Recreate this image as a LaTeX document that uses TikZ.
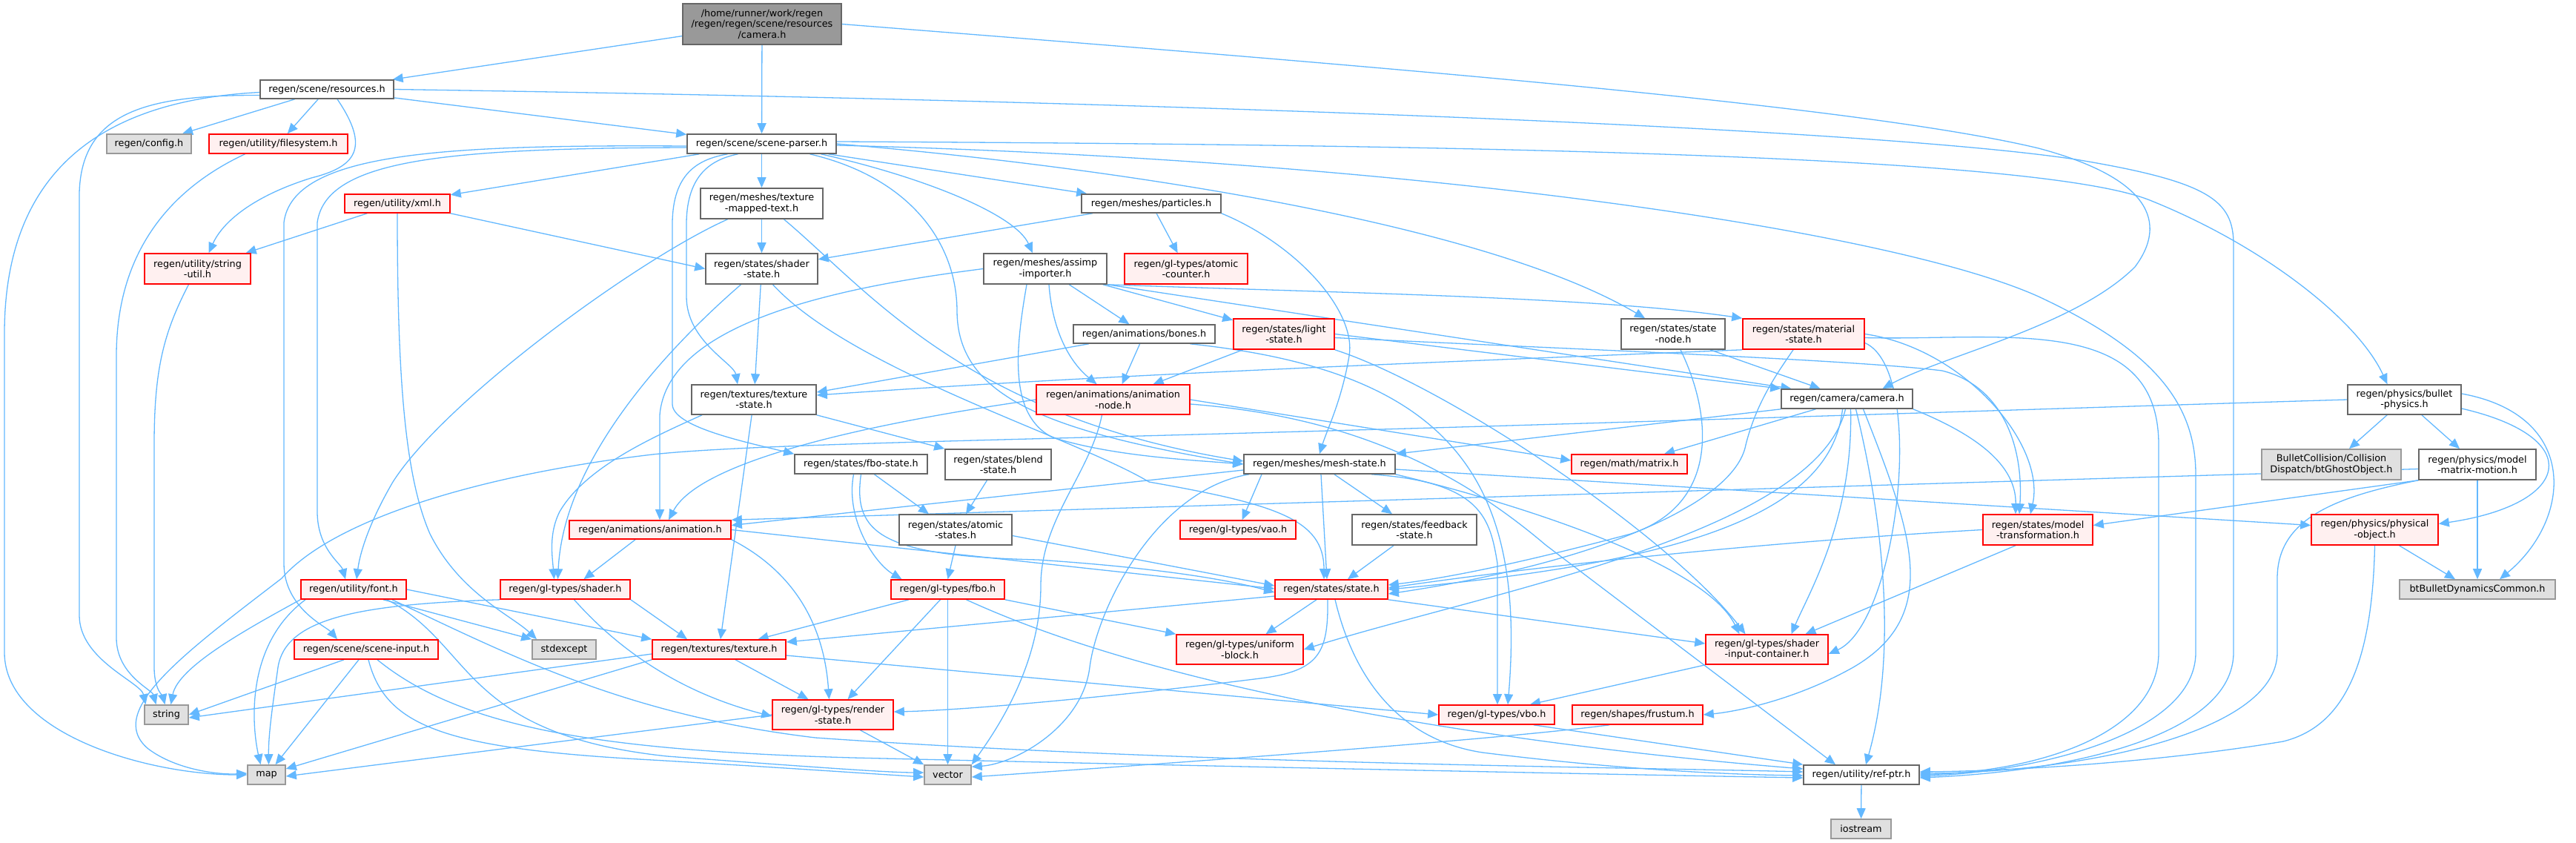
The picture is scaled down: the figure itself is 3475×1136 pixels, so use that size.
\documentclass[tikz,border=0pt]{standalone}
\usepackage{fontspec}
\setmainfont{DejaVu Sans}
\usetikzlibrary{arrows.meta}
\definecolor{edgeblue}{HTML}{63B8FF}
\definecolor{darkgrey}{HTML}{666666}
\definecolor{midgrey}{HTML}{999999}
\definecolor{palegrey}{HTML}{E0E0E0}
\definecolor{redfill}{HTML}{FFF0F0}
\pgfdeclarelayer{bg}
\pgfsetlayers{bg,main}
\tikzset{
  nbox/.style={draw=darkgrey, fill=white, text=black, line width=1.6pt, inner sep=0pt, align=center, font=\fontsize{12.8pt}{14.5pt}\selectfont},
  rbox/.style={nbox, draw=red, fill=redfill},
  xbox/.style={nbox, draw=midgrey, fill=palegrey},
  mbox/.style={nbox, draw=darkgrey, fill=midgrey},
  sz/.style 2 args={minimum width=#1pt, minimum height=#2pt},
  dep/.style={draw=edgeblue, line width=1.3pt, -{Triangle[length=14pt,width=12pt]}},
}
\begin{document}
\begin{tikzpicture}[x=1pt,y=-1pt]
\useasboundingbox (0,0) rectangle (3475,1136);
% nodes
\node[mbox,sz={214}{55}] (main) at (1028,32.5) {/home/runner/work/regen\\/regen/regen/scene/resources\\/camera.h};
\node[nbox,sz={180}{25}] (resources) at (441,120.5) {regen/scene/resources.h};
\node[nbox,sz={201}{26}] (sceneparser) at (1027.5,194) {regen/scene/scene-parser.h};
\node[xbox,sz={114}{26}] (config) at (201,194) {regen/config.h};
\node[rbox,sz={187}{26}] (filesystem) at (375.5,194) {regen/utility/filesystem.h};
\node[rbox,sz={142}{25}] (xml) at (536,274.5) {regen/utility/xml.h};
\node[rbox,sz={143}{41}] (stringutil) at (266.5,362.5) {regen/utility/string\\-util.h};
\node[nbox,sz={165}{41}] (texmapped) at (1027.5,274.5) {regen/meshes/texture\\-mapped-text.h};
\node[nbox,sz={188}{25}] (particles) at (1553,274.5) {regen/meshes/particles.h};
\node[nbox,sz={151}{41}] (shaderstate) at (1027.5,362.5) {regen/states/shader\\-state.h};
\node[nbox,sz={166}{41}] (assimp) at (1410,362.5) {regen/meshes/assimp\\-importer.h};
\node[rbox,sz={166}{41}] (atomiccounter) at (1600,362.5) {regen/gl-types/atomic\\-counter.h};
\node[nbox,sz={191}{25}] (bones) at (1543.5,450.5) {regen/animations/bones.h};
\node[rbox,sz={136}{41}] (lightstate) at (1732,450.5) {regen/states/light\\-state.h};
\node[nbox,sz={140}{41}] (statenode) at (2257,450.5) {regen/states/state\\-node.h};
\node[rbox,sz={164}{41}] (materialstate) at (2433,450.5) {regen/states/material\\-state.h};
\node[nbox,sz={168}{40}] (texturestate) at (1017,539) {regen/textures/texture\\-state.h};
\node[rbox,sz={207}{40}] (animnode) at (1501.5,539) {regen/animations/animation\\-node.h};
\node[nbox,sz={177}{26}] (cameracam) at (2491.5,538) {regen/camera/camera.h};
\node[nbox,sz={153}{40}] (bulletphys) at (3243.5,539) {regen/physics/bullet\\-physics.h};
\node[nbox,sz={179}{26}] (fbostate) at (1161.5,626) {regen/states/fbo-state.h};
\node[nbox,sz={143}{41}] (blendstate) at (1346.5,626.5) {regen/states/blend\\-state.h};
\node[nbox,sz={204}{26}] (meshstate) at (1780,626) {regen/meshes/mesh-state.h};
\node[rbox,sz={156}{26}] (matrix) at (2198,626) {regen/math/matrix.h};
\node[xbox,sz={188}{41}] (btghost) at (3145,626.5) {BulletCollision/Collision\\Dispatch/btGhostObject.h};
\node[nbox,sz={158}{41}] (mmm) at (3342,626.5) {regen/physics/model\\-matrix-motion.h};
\node[rbox,sz={218}{25}] (animation) at (877,714.5) {regen/animations/animation.h};
\node[nbox,sz={152}{41}] (atomicstates) at (1289,714.5) {regen/states/atomic\\-states.h};
\node[rbox,sz={156}{25}] (vao) at (1670,714.5) {regen/gl-types/vao.h};
\node[nbox,sz={168}{41}] (feedback) at (1908,714.5) {regen/states/feedback\\-state.h};
\node[rbox,sz={148}{41}] (modeltrans) at (2749,714.5) {regen/states/model\\-transformation.h};
\node[rbox,sz={171}{41}] (physobj) at (3203.5,714.5) {regen/physics/physical\\-object.h};
\node[rbox,sz={142}{26}] (font) at (477,795) {regen/utility/font.h};
\node[rbox,sz={175}{26}] (shader) at (762.5,795) {regen/gl-types/shader.h};
\node[rbox,sz={153}{26}] (fbo) at (1278.5,795) {regen/gl-types/fbo.h};
\node[rbox,sz={152}{26}] (state) at (1796,795) {regen/states/state.h};
\node[xbox,sz={210}{26}] (btBullet) at (3342,795) {btBulletDynamicsCommon.h};
\node[rbox,sz={194}{26}] (sceneinput) at (494,876) {regen/scene/scene-input.h};
\node[xbox,sz={86}{26}] (stdexcept) at (761,876) {stdexcept};
\node[rbox,sz={180}{26}] (texture) at (970,876) {regen/textures/texture.h};
\node[rbox,sz={171}{40}] (uniformblock) at (1672.5,876) {regen/gl-types/uniform\\-block.h};
\node[rbox,sz={165}{40}] (shaderinput) at (2383.5,876) {regen/gl-types/shader\\-input-container.h};
\node[xbox,sz={59}{26}] (string) at (224.5,964) {string};
\node[rbox,sz={163}{40}] (renderstate) at (1123.5,964) {regen/gl-types/render\\-state.h};
\node[rbox,sz={156}{26}] (vbo) at (2019,964) {regen/gl-types/vbo.h};
\node[rbox,sz={176}{26}] (frustum) at (2209,964) {regen/shapes/frustum.h};
\node[xbox,sz={51}{26}] (map) at (359.5,1045) {map};
\node[xbox,sz={63}{26}] (vector) at (1278.5,1045) {vector};
\node[nbox,sz={156}{26}] (refptr) at (2511,1045) {regen/utility/ref-ptr.h};
\node[xbox,sz={81}{26}] (iostream) at (2510.5,1118) {iostream};

\begin{pgfonlayer}{bg}
% main
\draw[dep] (main) -- (resources);
\draw[dep] (main) -- (sceneparser);
\draw[dep] (main.east) .. controls (1800,85) and (2500,140) .. (2750,200) .. controls (2900,240) and (2925,300) .. (2880,360) .. controls (2800,440) and (2620,480) .. ([xshift=48pt]cameracam.north);
% resources
\draw[dep] (resources) -- (sceneparser);
\draw[dep] (resources) -- (config);
\draw[dep] (resources) -- (filesystem);
\draw[dep] ([xshift=14pt]resources.south) .. controls (500,200) and (480,225) .. (420,240) .. controls (340,265) and (300,300) .. ([xshift=15pt]stringutil.north);
\draw[dep] ([yshift=-8pt]resources.west) .. controls (200,128) and (110,150) .. (107,260) -- (107,830) .. controls (107,890) and (190,920) .. ([xshift=-28pt]string.north);
\draw[dep] ([yshift=-4pt]resources.west) .. controls (150,135) and (6,220) .. (6,450) -- (6,880) .. controls (6,990) and (200,1045) .. (map.west);
\draw[dep] (resources.east) .. controls (1500,135) and (2500,170) .. (2800,215) .. controls (2980,245) and (3013,270) .. (3013,330) -- (3013,880) .. controls (3013,990) and (2800,1040) .. ([yshift=-4pt]refptr.east);
\draw[dep] ([xshift=-45pt]filesystem.south) .. controls (240,250) and (157,330) .. (157,480) -- (157,860) .. controls (157,910) and (205,930) .. ([xshift=-14pt]string.north);
\draw[dep] ([xshift=-12pt]stringutil.south) .. controls (220,450) and (208,500) .. (208,600) -- (208,900) .. controls (208,930) and (220,940) .. ([xshift=-2pt]string.north);
% xml
\draw[dep] (xml) -- (stringutil);
\draw[dep] (xml.south) .. controls (536,500) and (545,640) .. (580,720) .. controls (620,800) and (690,830) .. ([xshift=-37pt]stdexcept.north);
\draw[dep] (xml.south east) -- (shaderstate.west);
% scene parser
\draw[dep] (sceneparser) -- (xml);
\draw[dep] ([yshift=-5pt]sceneparser.west) .. controls (600,200) and (440,215) .. (428,300) -- (428,690) .. controls (428,740) and (460,760) .. ([xshift=-11pt]font.north);
\draw[dep] ([yshift=-3pt]sceneparser.west) .. controls (600,195) and (395,205) .. (383,300) -- (383,760) .. controls (383,820) and (440,845) .. ([xshift=-39pt]sceneinput.north);
\draw[dep] (sceneparser) -- (texmapped);
\draw[dep] (sceneparser) -- (particles);
\draw[dep] ([xshift=80pt]sceneparser.south) .. controls (1250,240) and (1370,290) .. ([xshift=-17pt]assimp.north);
\draw[dep] ([xshift=-32pt]sceneparser.south) .. controls (960,215) and (927,235) .. (926,300) -- (926,400) .. controls (926,460) and (990,490) .. ([xshift=-22pt]texturestate.north);
\draw[dep] ([xshift=-46pt]sceneparser.south) .. controls (940,215) and (908,235) .. (907,300) -- (907,545) .. controls (907,575) and (1000,595) .. (fbostate.north west);
\draw[dep] ([xshift=65pt]sceneparser.south) .. controls (1230,240) and (1291,330) .. (1291,420) .. controls (1292,530) and (1400,580) .. (meshstate.west);
\draw[dep] (sceneparser.east) .. controls (1500,225) and (2000,300) .. ([xshift=-38pt]statenode.north);
\draw[dep] ([yshift=3pt]sceneparser.east) .. controls (2000,195) and (2750,210) .. (2900,270) .. controls (3050,330) and (3180,430) .. ([xshift=-23pt]bulletphys.north);
\draw[dep] ([yshift=-2pt]sceneparser.east) .. controls (1900,215) and (2550,310) .. (2750,400) .. controls (2900,470) and (2962,540) .. (2962,640) -- (2962,880) .. controls (2962,990) and (2750,1040) .. ([yshift=-2pt]refptr.east);
% texture mapped text
\draw[dep] (texmapped) -- (shaderstate);
\draw[dep] ([xshift=-46pt]texmapped.south) .. controls (860,350) and (600,540) .. (530,650) .. controls (495,710) and (485,750) .. ([xshift=4pt]font.north);
\draw[dep] ([xshift=30pt]texmapped.south) .. controls (1170,390) and (1300,560) .. ([yshift=4pt]meshstate.west);
% particles
\draw[dep] (particles) -- (shaderstate);
\draw[dep] (particles) -- (atomiccounter);
\draw[dep] (particles.south east) .. controls (1750,330) and (1830,420) .. (1820,480) .. controls (1810,540) and (1790,580) .. (meshstate.north);
% shader state
\draw[dep] (shaderstate) -- (texturestate);
\draw[dep] ([xshift=-28pt]shaderstate.south) .. controls (900,470) and (760,620) .. ([xshift=-10pt]shader.north);
\draw[dep] ([xshift=15pt]shaderstate.south) .. controls (1150,500) and (1450,590) .. (1550,650) .. controls (1720,680) and (1786,700) .. ([xshift=-10pt]state.north);
% assimp
\draw[dep] (assimp) -- (bones);
\draw[dep] ([xshift=5pt]assimp.south) .. controls (1420,450) and (1445,490) .. ([xshift=-22pt]animnode.north);
\draw[dep] (assimp) -- (lightstate);
\draw[dep] (assimp.south east) .. controls (1800,395) and (2150,400) .. (materialstate.north west);
\draw[dep] (assimp.south east) -- ([xshift=-75pt]cameracam.north);
\draw[dep] ([xshift=-25pt]assimp.south) .. controls (1370,470) and (1360,560) .. (1420,590) .. controls (1500,615) and (1600,620) .. (meshstate.west);
\draw[dep] (assimp.west) .. controls (1150,385) and (900,430) .. (890,560) -- ([xshift=13pt]animation.north);
% bones
\draw[dep] (bones) -- ([yshift=10pt]texturestate.east);
\draw[dep] (bones) -- ([xshift=12pt]animnode.north);
\draw[dep] ([xshift=62pt]bones.south) .. controls (1950,500) and (2060,640) .. ([xshift=15pt]vbo.north);
% light state
\draw[dep] (lightstate) -- (animnode);
\draw[dep] (lightstate.east) -- (cameracam.north west);
\draw[dep] (lightstate.south east) .. controls (1950,520) and (2250,720) .. ([xshift=-29pt]shaderinput.north);
\draw[dep] ([yshift=-5pt]lightstate.east) .. controls (2100,470) and (2500,485) .. (2620,500) .. controls (2700,520) and (2730,600) .. ([xshift=-25pt]modeltrans.north);
% state node
\draw[dep] ([xshift=50pt]statenode.south) -- ([xshift=-36pt]cameracam.north);
\draw[dep] ([xshift=10pt]statenode.south) .. controls (2310,560) and (2320,680) .. (2200,720) .. controls (2050,760) and (1950,780) .. ([yshift=6pt]state.east);
% material state
\draw[dep] (materialstate.south west) .. controls (1900,490) and (1500,505) .. ([yshift=6pt]texturestate.east);
\draw[dep] (materialstate.east) .. controls (2650,470) and (2760,600) .. ([xshift=-10pt]modeltrans.north);
\draw[dep] ([xshift=-14pt]materialstate.south) .. controls (2400,500) and (2370,540) .. (2355,600) .. controls (2340,680) and (2150,760) .. ([yshift=-6pt]state.east);
\draw[dep] ([yshift=-5pt]materialstate.east) .. controls (2700,460) and (2912,420) .. (2912,600) -- (2912,880) .. controls (2912,990) and (2750,1040) .. (refptr.east);
\draw[dep] ([yshift=-12pt]materialstate.east) .. controls (2600,500) and (2560,840) .. ([yshift=-6pt]shaderinput.east);
% camera
\draw[dep] (cameracam.south west) -- (meshstate.north east);
\draw[dep] ([xshift=-42pt]cameracam.south) -- ([xshift=47pt]matrix.north);
\draw[dep] ([xshift=-6pt]cameracam.south) .. controls (2470,700) and (2250,760) .. (state.east);
\draw[dep] ([xshift=5pt]cameracam.south) .. controls (2500,700) and (2440,800) .. ([xshift=33pt]shaderinput.north);
\draw[dep] ([xshift=-2pt]cameracam.south) .. controls (2450,720) and (2000,800) .. (uniformblock.east);
\draw[dep] ([xshift=22pt]cameracam.south) .. controls (2580,720) and (2620,830) .. (2500,900) .. controls (2420,945) and (2340,960) .. (frustum.east);
\draw[dep] ([xshift=12pt]cameracam.south) .. controls (2540,700) and (2560,880) .. ([xshift=6pt]refptr.north);
\draw[dep] (cameracam.south east) .. controls (2650,580) and (2720,620) .. ([xshift=-30pt]modeltrans.north);
% texture state
\draw[dep] (texturestate) -- (texture);
\draw[dep] (texturestate.south east) -- (blendstate.north west);
\draw[dep] ([xshift=-70pt]texturestate.south) .. controls (880,590) and (790,630) .. (755,690) .. controls (740,720) and (745,750) .. ([xshift=-15pt]shader.north);
% animation node
\draw[dep] (animnode.east) -- ([yshift=5pt]matrix.west);
\draw[dep] (animnode.west) .. controls (1250,560) and (950,610) .. ([xshift=25pt]animation.north);
\draw[dep] ([yshift=-6pt]animnode.east) .. controls (1800,560) and (1950,620) .. (2085,735) -- ([xshift=-35pt]refptr.north);
\draw[dep] ([xshift=-15pt]animnode.south) .. controls (1470,640) and (1404,700) .. (1404,790) .. controls (1404,900) and (1340,990) .. (vector.north east);
% bullet physics
\draw[dep] (bulletphys) -- (btghost);
\draw[dep] (bulletphys) -- (mmm);
\draw[dep] ([yshift=-12pt]bulletphys.east) .. controls (3490,590) and (3470,680) .. ([yshift=8pt]physobj.east);
\draw[dep] ([yshift=8pt]bulletphys.east) .. controls (3480,560) and (3470,700) .. ([xshift=30pt]btBullet.north);
\draw[dep] (bulletphys.west) .. controls (2800,550) and (2200,570) .. (1720,583) .. controls (1300,595) and (1000,600) .. (880,613) .. controls (650,640) and (450,700) .. (380,780) .. controls (250,880) and (140,960) .. (200,1010) .. controls (240,1040) and (300,1045) .. ([yshift=2pt]map.west);
% model matrix motion
\draw[dep] (mmm.south west) -- ([yshift=6pt]modeltrans.east);
\draw[dep] (mmm) -- (btBullet);
\draw[dep] ([yshift=-6pt]mmm.west) -- (animation.north east);
\draw[dep] (mmm.south west) .. controls (3150,670) and (3072,700) .. (3072,780) -- (3072,880) .. controls (3072,990) and (2800,1042) .. ([yshift=2pt]refptr.east);
% physical object
\draw[dep] ([xshift=33pt]physobj.south) -- ([xshift=-30pt]btBullet.north);
\draw[dep] (physobj.south) .. controls (3200,900) and (3160,980) .. (3080,1000) .. controls (2900,1030) and (2700,1040) .. ([yshift=4pt]refptr.east);
% mesh state
\draw[dep] ([yshift=-7pt]meshstate.east) -- ([yshift=6pt]physobj.west);
\draw[dep] ([yshift=-8pt]meshstate.west) -- ([yshift=6pt]animation.east);
\draw[dep] ([xshift=-78pt]meshstate.south) -- (vao);
\draw[dep] ([xshift=2pt]meshstate.south) -- ([xshift=-6pt]state.north);
\draw[dep] ([xshift=20pt]meshstate.south) -- ([xshift=-30pt]feedback.north);
\draw[dep] ([xshift=70pt]meshstate.south) .. controls (2000,650) and (2010,700) .. (2020,760) -- ([xshift=1pt]vbo.north);
\draw[dep] (meshstate.south east) .. controls (2050,680) and (2300,760) .. ([xshift=-37pt]shaderinput.north);
\draw[dep] ([xshift=-95pt]meshstate.south) .. controls (1560,660) and (1480,820) .. (1470,900) .. controls (1460,980) and (1370,1030) .. ([yshift=-3pt]vector.north east);
% feedback, model transformation
\draw[dep] ([xshift=-28pt]feedback.south) -- ([xshift=22pt]state.north);
\draw[dep] (modeltrans.west) .. controls (2400,730) and (2100,760) .. ([yshift=2pt]state.east);
\draw[dep] ([xshift=-30pt]modeltrans.south) -- ([xshift=52pt]shaderinput.north);
% fbo state, blend, atomic
\draw[dep] ([xshift=-10pt]fbostate.south) .. controls (1140,700) and (1180,760) .. ([xshift=-62pt]fbo.north);
\draw[dep] ([xshift=18pt]fbostate.south) -- ([xshift=-36pt]atomicstates.north);
\draw[dep] (fbostate.south) .. controls (1150,720) and (1190,750) .. (1400,755) .. controls (1550,765) and (1650,780) .. ([yshift=-4pt]state.west);
\draw[dep] ([xshift=-15pt]blendstate.south) -- ([xshift=14pt]atomicstates.north);
\draw[dep] (atomicstates.south) -- (fbo.north);
\draw[dep] ([yshift=-8pt]atomicstates.east) -- ([yshift=5pt]state.west);
% animation
\draw[dep] ([xshift=-20pt]animation.south) -- ([xshift=25pt]shader.north);
\draw[dep] (animation.east) -- ([yshift=1pt]state.west);
\draw[dep] (animation.south east) .. controls (1050,760) and (1110,820) .. ([xshift=-5pt]renderstate.north);
% font
\draw[dep] (font.south west) .. controls (330,850) and (240,900) .. ([xshift=6pt]string.north);
\draw[dep] ([xshift=-65pt]font.south) .. controls (330,870) and (340,980) .. ([xshift=-8pt]map.north);
\draw[dep] ([xshift=40pt]font.south) -- (stdexcept.north west);
\draw[dep] (font.east) -- (texture.north west);
\draw[dep] ([xshift=45pt]font.south) .. controls (640,870) and (620,990) .. (900,1020) .. controls (1100,1035) and (1200,1042) .. ([yshift=3pt]vector.west);
\draw[dep] ([xshift=52pt]font.south) .. controls (700,890) and (850,965) .. (1100,995) .. controls (1600,1030) and (2200,1035) .. ([yshift=4pt]refptr.west);
% shader
\draw[dep] (shader.south west) .. controls (480,815) and (385,835) .. (375,900) .. controls (368,950) and (362,990) .. ([xshift=3pt]map.north);
\draw[dep] (shader.south east) -- ([xshift=-43pt]texture.north);
\draw[dep] ([xshift=12pt]shader.south) .. controls (820,860) and (900,930) .. ([yshift=-2pt]renderstate.west);
% scene input
\draw[dep] ([xshift=-30pt]sceneinput.south) -- (string.east);
\draw[dep] ([xshift=-10pt]sceneinput.south) -- ([xshift=12pt]map.north);
\draw[dep] ([xshift=3pt]sceneinput.south) .. controls (520,980) and (600,1010) .. (880,1025) .. controls (1050,1035) and (1150,1042) .. ([yshift=-3pt]vector.west);
\draw[dep] ([xshift=15pt]sceneinput.south) .. controls (620,980) and (800,1012) .. (1150,1022) .. controls (1700,1035) and (2200,1045) .. ([yshift=-4pt]refptr.west);
% fbo
\draw[dep] (fbo) -- (texture);
\draw[dep] ([xshift=-10pt]fbo.south) -- ([xshift=20pt]renderstate.north);
\draw[dep] (fbo) -- (vector);
\draw[dep] (fbo.south east) -- (uniformblock.north west);
\draw[dep] ([xshift=25pt]fbo.south) .. controls (1600,945) and (2100,1010) .. ([yshift=8pt]refptr.west);
% state
\draw[dep] ([yshift=-9pt]state.west) -- ([yshift=10pt]texture.east);
\draw[dep] ([xshift=-20pt]state.south) -- ([xshift=35pt]uniformblock.north);
\draw[dep] (state.south east) -- ([yshift=8pt]shaderinput.west);
\draw[dep] ([xshift=-5pt]state.south) .. controls (1792,880) and (1780,905) .. (1700,915) .. controls (1500,940) and (1300,958) .. ([yshift=4pt]renderstate.east);
\draw[dep] ([xshift=5pt]state.south) .. controls (1830,930) and (1900,1000) .. (2000,1015) .. controls (2200,1040) and (2350,1045) .. ([yshift=-1pt]refptr.west);
% texture
\draw[dep] ([xshift=22pt]texture.south) -- ([xshift=-33pt]renderstate.north);
\draw[dep] (texture.south west) -- ([yshift=8pt]map.east);
\draw[dep] ([yshift=-6pt]texture.west) -- ([yshift=-4pt]string.east);
\draw[dep] ([yshift=-8pt]texture.east) -- (vbo.west);
% render state and the rest
\draw[dep] ([xshift=37pt]renderstate.south) -- (vector.north west);
\draw[dep] (renderstate.west) -- ([yshift=-2pt]map.east);
\draw[dep] (shaderinput.south west) -- ([xshift=45pt]vbo.north);
\draw[dep] ([xshift=50pt]vbo.south) -- (refptr.north west);
\draw[dep] ([xshift=-38pt]frustum.south) .. controls (2000,1000) and (1500,1035) .. ([yshift=-3pt]vector.east);
\draw[dep] (refptr) -- (iostream);
\end{pgfonlayer}
\end{tikzpicture}
\end{document}
